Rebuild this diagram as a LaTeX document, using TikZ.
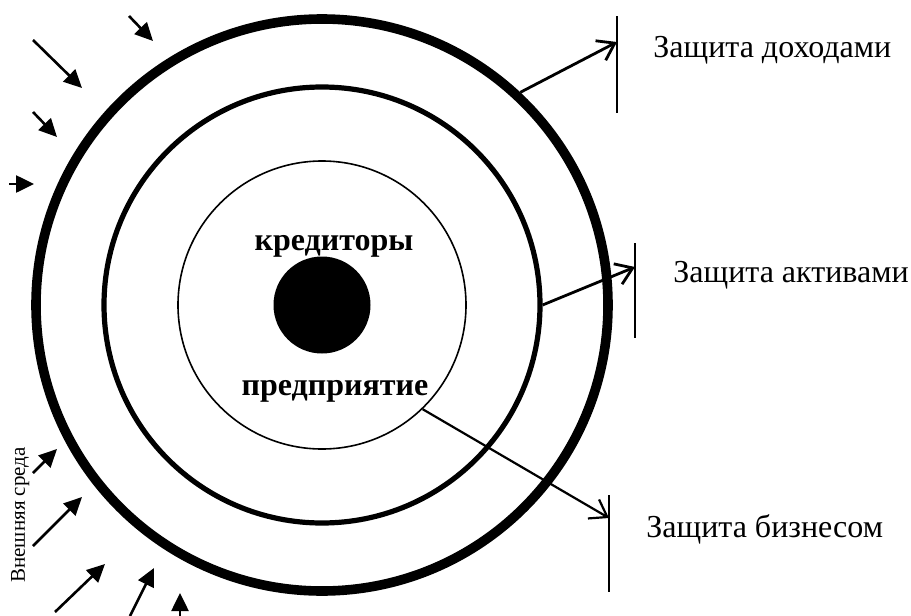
\documentclass[tikz,border=0pt]{standalone}
\usepackage{fontspec}
\setmainfont{Liberation Serif}
\usetikzlibrary{arrows.meta}
\tikzset{
  ring/.style={circle, draw, inner sep=0pt},
  lab/.style={font=\fontsize{16}{19}\selectfont, inner sep=0pt, anchor=base west},
  boldlab/.style={font=\fontsize{16}{19}\selectfont\bfseries, inner sep=0pt, anchor=base},
  envlab/.style={font=\fontsize{10.5}{12}\selectfont, inner sep=0pt, rotate=90, anchor=base west},
  inarrow/.style={line width=1.3pt, -{Triangle[length=9pt,width=8.5pt]}},
  outarrow/.style={line width=1.4pt, -{Straight Barb[length=8pt,width=11pt]}},
  bar/.style={line width=0.8pt},
}
\begin{document}
\begin{tikzpicture}[x=0.5pt,y=-0.5pt]
\useasboundingbox (0,0) rectangle (911,616);
% rings
\node[ring, line width=4.8pt, minimum size=286pt] (outer) at (322,305) {};
\node[ring, line width=2.6pt, minimum size=218pt] (middle) at (322,305) {};
\node[ring, line width=0.8pt, minimum size=144pt] (inner) at (322,305) {};
\node[circle, fill=black, inner sep=0pt, minimum size=48.5pt] (dot) at (322,305) {};
% centre labels
\node[boldlab] (kr) at (334,250) {кредиторы};
\node[boldlab] (pr) at (335,395) {предприятие};
% bars
\coordinate (b1t) at (617,16);  \coordinate (b1b) at (617,113);
\coordinate (b2t) at (635,243); \coordinate (b2b) at (635,338);
\coordinate (b3t) at (609,495); \coordinate (b3b) at (609,592);
\draw[bar] (b1t) -- (b1b);
\draw[bar] (b2t) -- (b2b);
\draw[bar] (b3t) -- (b3b);
% arrow ends
\coordinate (e1) at (617,42);
\coordinate (e2) at (635,267);
\coordinate (e3) at (609,518);
\draw[outarrow] (outer.47.6) -- (e1);
\draw[outarrow] (middle.0) -- (e2);
\draw[outarrow, line width=1.1pt] (inner.-46.4) -- (e3);
% right labels
\node[lab] (l1) at (653,57) {Защита доходами};
\node[lab] (l2) at (673,282) {Защита активами};
\node[lab] (l3) at (646,537) {Защита бизнесом};
% environment
\node[envlab] (env) at (25,583) {Внешняя среда};
\foreach \n/\sx/\sy/\ex/\ey in {a1/129/16/153/41, a2/33/40/82/88, a3/33/112/57/137, a4/9/184/34/184,
  b1/33/473/57/449, b2/33/546/82/497, b3/55/612/105/564, b4/130/616/154/568, b5/180/616/180/593}{
  \coordinate (s\n) at (\sx,\sy);
  \coordinate (t\n) at (\ex,\ey);
  \draw[inarrow] (s\n) -- (t\n);
}
\end{tikzpicture}
\end{document}
